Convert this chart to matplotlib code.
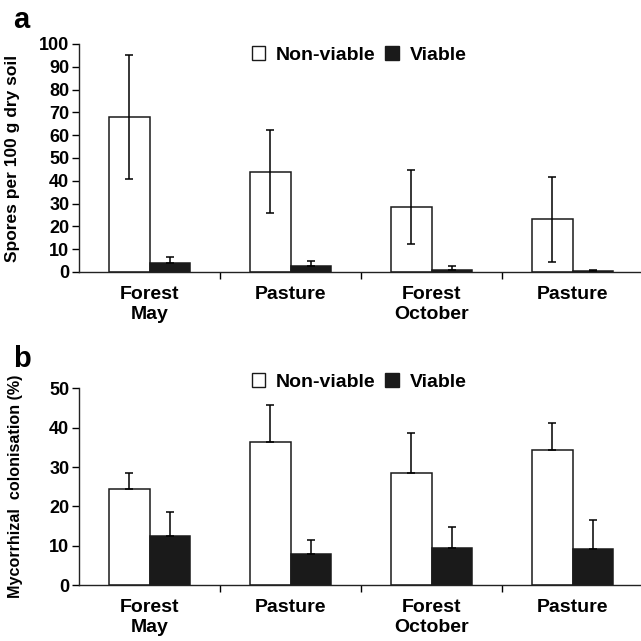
import matplotlib.pyplot as plt
import numpy as np
from matplotlib.patches import Patch

plt.rcParams['font.family'] = ['Liberation Sans', 'DejaVu Sans']
plt.rcParams['font.weight'] = 'bold'

# data
categories = ['Forest\nMay', 'Pasture', 'Forest\nOctober', 'Pasture']

spores_nonviable = [68, 44, 28.6, 23.1]
spores_nonviable_err = [27, 18.3, 16.2, 18.7]
spores_viable = [3.9, 2.8, 1.0, 0.3]
spores_viable_err = [2.8, 2.2, 1.6, 0.7]

colon_nonviable = [24.4, 36.4, 28.5, 34.4]
colon_nonviable_err = [4.1, 9.4, 10.2, 6.9]
colon_viable = [12.4, 7.9, 9.5, 9.3]
colon_viable_err = [6.3, 3.5, 5.3, 7.3]

W = 641
fig = plt.figure(figsize=(6.41, 6.41), dpi=100)
ax_a = fig.add_axes([79 / W, 1 - 272 / W, (W - 79) / W, 228 / W])
ax_b = fig.add_axes([79 / W, 1 - 585.3 / W, (W - 79) / W, 197 / W])

x = np.arange(len(categories))
bw = 0.287
ekw = dict(ecolor='black', elinewidth=1.1, capsize=3, capthick=1.1)


def draw(ax, nv, nv_err, v, v_err, ymax, ystep, ylabel, ylsize, both):
    nv_yerr = [nv_err, nv_err] if both else [np.zeros(4), nv_err]
    ax.bar(x - bw / 2, nv, bw, color='white', edgecolor='#1a1a1a', linewidth=1.1,
           yerr=nv_yerr, error_kw=ekw, zorder=2)
    ax.bar(x + bw / 2, v, bw, color='#1a1a1a', edgecolor='#1a1a1a', linewidth=1.1,
           yerr=[np.zeros(4), v_err], error_kw=ekw, zorder=2)
    ax.set_xlim(-0.5, 3.485)
    ax.set_ylim(0, ymax)
    ax.set_yticks(np.arange(0, ymax + 1, ystep))
    ax.set_xticks([0.5, 1.5, 2.5])
    ax.set_xticklabels([])
    ax.set_xticks(x, minor=True)
    ax.set_xticklabels(categories, minor=True, fontsize=14, fontweight='bold',
                       linespacing=1.25)
    ax.tick_params(axis='x', which='minor', length=0, pad=10)
    ax.tick_params(axis='x', which='major', length=5, width=1, direction='out')
    ax.tick_params(axis='y', length=5, width=1, labelsize=13, pad=2)
    for t in ax.get_yticklabels():
        t.set_fontweight('bold')
    for s in ['top', 'right']:
        ax.spines[s].set_visible(False)
    for s in ['left', 'bottom']:
        ax.spines[s].set_linewidth(1)
        ax.spines[s].set_color('#222222')
    ax.set_ylabel(ylabel, fontsize=ylsize, fontweight='bold')


draw(ax_a, spores_nonviable, spores_nonviable_err, spores_viable, spores_viable_err,
     100, 10, 'Spores per 100 g dry soil', 12.5, True)
draw(ax_b, colon_nonviable, colon_nonviable_err, colon_viable, colon_viable_err,
     50, 10, 'Mycorrhizal  colonisation (%)', 11.6, False)
ax_a.yaxis.set_label_coords(-59 / (W - 79), 0.5)
ax_b.yaxis.set_label_coords(-56 / (W - 79), 0.5)

handles = [Patch(facecolor='white', edgecolor='#1a1a1a', linewidth=1),
           Patch(facecolor='#1a1a1a', edgecolor='#1a1a1a', linewidth=1)]
for yc in [1 - 55 / W, 1 - 382 / W]:
    fig.legend(handles, ['Non-viable', 'Viable'], loc='center',
               bbox_to_anchor=(359 / W, yc), ncol=2, frameon=False,
               prop={'size': 14, 'weight': 'bold'}, handlelength=0.7,
               handleheight=0.7, handletextpad=0.55, columnspacing=0.5)

fig.text(13 / W, 1 - 20 / W, 'a', fontsize=21, fontweight='bold', va='center')
fig.text(13 / W, 1 - 359 / W, 'b', fontsize=21, fontweight='bold', va='center')

fig.savefig('out.png', dpi=100)
